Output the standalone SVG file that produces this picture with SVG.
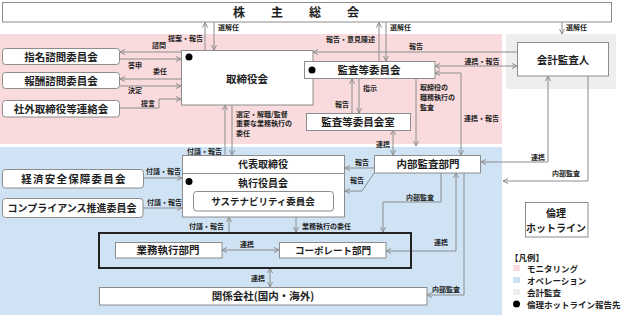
<svg xmlns="http://www.w3.org/2000/svg" width="624" height="315" viewBox="0 0 624 315">
<style>
text{font-family:"Noto Sans CJK JP","Noto Sans",sans-serif;font-weight:bold;fill:#1e1e1e}
.n{font-size:10.5px;text-anchor:middle}
.s{font-size:7px}
.e{text-anchor:end}
.box{fill:#fff;stroke:#8c8c8c;stroke-width:1}
.c{fill:none;stroke:#8c8c8c;stroke-width:1}
.lg{font-size:8.5px}
</style>
<defs>
<marker id="a" viewBox="0 0 6 6" refX="5.5" refY="3" markerWidth="6" markerHeight="6" markerUnits="userSpaceOnUse" orient="auto-start-reverse">
<path d="M0.5,0.5 L5.5,3 L0.5,5.5" fill="none" stroke="#8c8c8c" stroke-width="1"/>
</marker>
</defs>
<!-- backgrounds -->
<rect x="0" y="34" width="502" height="110" fill="#f9dbdd"/>
<rect x="0" y="147" width="502" height="168" fill="#cfe3f4"/>
<rect x="506" y="34" width="110" height="55" fill="#eeeeee"/>

<g id="connectors">
<line class="c" x1="205" y1="50" x2="205" y2="22.5" marker-end="url(#a)"/>
<line class="c" x1="214" y1="22.5" x2="214" y2="50" marker-end="url(#a)"/>
<line class="c" x1="379" y1="61" x2="379" y2="22.5" marker-end="url(#a)"/>
<line class="c" x1="386" y1="22.5" x2="386" y2="61" marker-end="url(#a)"/>
<line class="c" x1="562" y1="22.5" x2="562" y2="34" marker-end="url(#a)"/>
<line class="c" x1="517" y1="52" x2="313" y2="52" marker-end="url(#a)"/>
<line class="c" x1="435" y1="66" x2="517" y2="66" marker-start="url(#a)" marker-end="url(#a)"/>
<line class="c" x1="304" y1="71" x2="277" y2="71" marker-end="url(#a)"/>
<line class="c" x1="352" y1="113" x2="352" y2="79" marker-end="url(#a)"/>
<line class="c" x1="359" y1="79" x2="359" y2="113" marker-end="url(#a)"/>
<line class="c" x1="393" y1="130" x2="393" y2="155" marker-start="url(#a)" marker-end="url(#a)"/>
<line class="c" x1="416" y1="79" x2="416" y2="146" marker-end="url(#a)"/>
<polyline class="c" points="461,155 461,73 435,73" marker-start="url(#a)" marker-end="url(#a)"/>
<polyline class="c" points="548,76 548,162 481,162" marker-start="url(#a)" marker-end="url(#a)"/>
<polyline class="c" points="588,76 588,181 503,181" marker-end="url(#a)"/>
<line class="c" x1="181" y1="52" x2="120" y2="52" marker-end="url(#a)"/>
<line class="c" x1="120" y1="59" x2="181" y2="59" marker-end="url(#a)"/>
<line class="c" x1="181" y1="79" x2="120" y2="79" marker-end="url(#a)"/>
<line class="c" x1="120" y1="86" x2="181" y2="86" marker-end="url(#a)"/>
<polyline class="c" points="120,108 159,108 159,99 181,99" marker-end="url(#a)"/>
<line class="c" x1="225" y1="155" x2="225" y2="105" marker-end="url(#a)"/>
<line class="c" x1="232" y1="105" x2="232" y2="155" marker-end="url(#a)"/>
<line class="c" x1="374" y1="168" x2="345" y2="168" marker-end="url(#a)"/>
<polyline class="c" points="374,173 362,191 345,191" marker-end="url(#a)"/>
<line class="c" x1="144" y1="178" x2="182" y2="178" marker-end="url(#a)"/>
<line class="c" x1="143" y1="208" x2="182" y2="208" marker-end="url(#a)"/>
<line class="c" x1="229" y1="232" x2="229" y2="217" marker-end="url(#a)"/>
<line class="c" x1="296" y1="217" x2="296" y2="232" marker-end="url(#a)"/>
<polyline class="c" points="441,173 441,202 383,202 383,232" marker-end="url(#a)"/>
<polyline class="c" points="456,173 456,251 386,251" marker-start="url(#a)" marker-end="url(#a)"/>
<polyline class="c" points="464,173 464,295 427,295" marker-end="url(#a)"/>
<line class="c" x1="222" y1="250" x2="279" y2="250" marker-start="url(#a)" marker-end="url(#a)"/>
<line class="c" x1="270" y1="268" x2="270" y2="287" marker-start="url(#a)" marker-end="url(#a)"/>
<!-- labels -->
<text class="s e" x="203" y="40.5">提案・報告</text>
<text class="s" x="218" y="30">選解任</text>
<text class="s e" x="375" y="41.5">報告・意見陳述</text>
<text class="s" x="390" y="30">選解任</text>
<text class="s" x="566" y="30">選解任</text>
<text class="s" x="409" y="48.5">報告</text>
<text class="s" x="482" y="63.5" text-anchor="middle">連携・報告</text>
<text class="s" x="281" y="67.5">監査等</text>
<text class="s e" x="349" y="106.5">報告</text>
<text class="s" x="363" y="90.5">指示</text>
<text class="s e" x="390" y="147">連携</text>
<text class="s" x="420" y="89.5">取締役の</text>
<text class="s" x="420" y="99.5">職務執行の</text>
<text class="s" x="420" y="109.5">監査</text>
<text class="s" x="464" y="120.5">連携・報告</text>
<text class="s e" x="545" y="159.5">連携</text>
<text class="s" x="552" y="175.5">内部監査</text>
<text class="s" x="152" y="47.5">諮問</text>
<text class="s" x="128" y="67.5">答申</text>
<text class="s" x="153" y="73.5">委任</text>
<text class="s" x="128" y="93">決定</text>
<text class="s" x="141" y="105.5">提言</text>
<text class="s e" x="222" y="153.5">付議・報告</text>
<text class="s" x="236" y="116.5">選定・解職/監督</text>
<text class="s" x="236" y="126">重要な業務執行の</text>
<text class="s" x="236" y="135.5">委任</text>
<text class="s" x="355" y="165">報告</text>
<text class="s" x="350" y="182.5">報告</text>
<text class="s" x="146" y="173.5">付議・報告</text>
<text class="s" x="147" y="204.5">付議・報告</text>
<text class="s e" x="224" y="228.5">付議・報告</text>
<text class="s" x="302" y="228.5">業務執行の委任</text>
<text class="s" x="406" y="199.5">内部監査</text>
<text class="s" x="434" y="245">連携</text>
<text class="s" x="432" y="291.5">内部監査</text>
<text class="s" x="240" y="247">連携</text>
<text class="s e" x="265" y="280.5">連携</text>
</g>

<g id="shareholders">
<rect class="box" x="2.5" y="2.5" width="609" height="19.5"/>
<text x="233" y="16.5" style="font-size:12px" letter-spacing="26">株主総会</text>
</g>
<g id="nomination">
<rect class="box" x="2.5" y="48.5" width="117" height="16" rx="3"/>
<text class="n" x="61" y="61">指名諮問委員会</text>
</g>
<g id="compensation">
<rect class="box" x="2.5" y="72.5" width="117" height="16" rx="3"/>
<text class="n" x="61" y="85">報酬諮問委員会</text>
</g>
<g id="outside-directors">
<rect class="box" x="2.5" y="100.5" width="117" height="16.5" rx="3"/>
<text class="n" x="61" y="112.5">社外取締役等連絡会</text>
</g>
<g id="board">
<rect class="box" x="181.5" y="50.5" width="131.5" height="54.5"/>
<circle cx="189" cy="57" r="3.5" fill="#000"/>
<text class="n" x="247" y="83">取締役会</text>
</g>
<g id="audit-committee">
<rect class="box" x="304.5" y="61.5" width="130.5" height="17"/>
<circle cx="312" cy="70" r="3.5" fill="#000"/>
<text class="n" x="369" y="74">監査等委員会</text>
</g>
<g id="audit-office">
<rect class="box" x="306.5" y="113.5" width="104" height="17"/>
<text class="n" x="358" y="126">監査等委員会室</text>
</g>
<g id="accounting-auditor">
<rect class="box" x="517.5" y="42.5" width="91" height="33.5"/>
<text class="n" x="563" y="63.5">会計監査人</text>
</g>
<g id="internal-audit">
<rect class="box" x="374.5" y="155.5" width="106" height="17.5"/>
<text class="n" x="428" y="168">内部監査部門</text>
</g>
<g id="executive">
<rect class="box" x="182.5" y="155.5" width="162" height="61.5"/>
<line x1="182.5" y1="173.5" x2="344.5" y2="173.5" stroke="#8c8c8c"/>
<text class="n" x="263" y="168" style="font-size:10px">代表取締役</text>
<circle cx="189" cy="181.5" r="3.5" fill="#000"/>
<text class="n" x="263" y="187" style="font-size:10px">執行役員会</text>
<rect class="box" x="193.5" y="191.5" width="140" height="19.5" rx="3"/>
<text class="n" x="263" y="205" style="font-size:9.5px">サステナビリティ委員会</text>
</g>
<g id="econ-security">
<rect class="box" x="2.5" y="169.5" width="141" height="18.5" rx="3"/>
<text class="n" x="74" y="182.5" letter-spacing="1.2">経済安全保障委員会</text>
</g>
<g id="compliance">
<rect class="box" x="2.5" y="198.5" width="140.5" height="19" rx="3"/>
<text class="n" x="72" y="212" style="font-size:10px">コンプライアンス推進委員会</text>
</g>
<g id="operations">
<rect x="99" y="233" width="312" height="35" fill="none" stroke="#222" stroke-width="2"/>
</g>
<g id="business-exec">
<rect class="box" x="115.5" y="242.5" width="106.5" height="15.5"/>
<text class="n" x="168" y="254">業務執行部門</text>
</g>
<g id="corporate">
<rect class="box" x="279.5" y="242.5" width="106.5" height="15.5"/>
<text class="n" x="333" y="254" style="font-size:9.5px">コーポレート部門</text>
</g>
<g id="affiliates">
<rect class="box" x="99.5" y="287.5" width="327.5" height="17.5"/>
<text class="n" x="263" y="300">関係会社(国内・海外)</text>
</g>
<g id="hotline">
<rect class="box" x="525.5" y="202.5" width="62.5" height="34.5"/>
<text class="n" x="556" y="217" style="font-size:10px">倫理</text>
<text class="n" x="556" y="232" style="font-size:10px">ホットライン</text>
</g>
<g id="legend">
<text class="lg" x="510" y="261">【凡例】</text>
<rect x="513" y="265" width="7" height="6" fill="#f9dbdd"/>
<text class="lg" x="527" y="271.5">モニタリング</text>
<rect x="513" y="277" width="7" height="6" fill="#cfe3f4"/>
<text class="lg" x="527" y="283.5">オペレーション</text>
<rect x="513" y="289" width="7" height="6" fill="#eeeeee"/>
<text class="lg" x="527" y="295.5">会計監査</text>
<circle cx="516.5" cy="304" r="3.5" fill="#000"/>
<text class="lg" x="527" y="307.5">倫理ホットライン報告先</text>
</g>
</svg>
